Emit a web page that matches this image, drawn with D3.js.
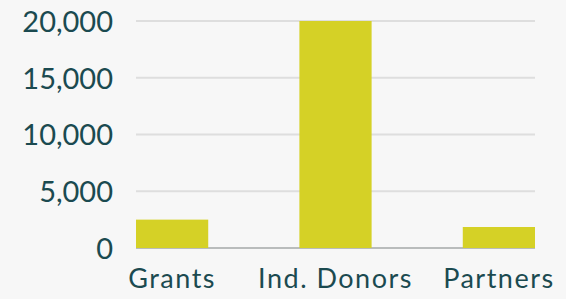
<!DOCTYPE html>
<html>
<head>
<meta charset="utf-8">
<script src="https://cdn.jsdelivr.net/npm/d3@7"></script>
<style>
  body { margin: 0; background: #f7f7f7; }
  svg { display: block; }
  .tick text { font-family: Lato, "Open Sans", sans-serif; fill: #1b4a50; }
</style>
</head>
<body>
<svg id="chart"></svg>
<script>
//Chart data
var categories = ["Grants", "Ind. Donors", "Partners"];
var amounts = [2500, 20000, 1850];
var yTicks = [0, 5000, 10000, 15000, 20000];

//Setting Margin for Plot
var margin = {top: 21, right: 31, bottom: 51, left: 136},
  width  = 566 - margin.left - margin.right,
  height = 299 - margin.top - margin.bottom;

var svg = d3.select("#chart")
  .attr("width", 566)
  .attr("height", 299);

var g = svg.append("g")
  .attr("transform", "translate(" + margin.left + "," + margin.top + ")");

//Set the ranges
var x = d3.scaleBand()
  .domain(categories)
  .range([0, width])
  .paddingInner(0.558)
  .paddingOuter(0);

var y = d3.scaleLinear()
  .domain([0, 20000])
  .range([height, 0]);

//Gridlines
g.selectAll(".grid")
  .data(yTicks)
  .enter().append("line")
  .attr("class", "grid")
  .attr("x1", 0)
  .attr("x2", width)
  .attr("y1", function(d) { return y(d); })
  .attr("y2", function(d) { return y(d); })
  .attr("stroke", function(d) { return d === 0 ? "#b9bcbc" : "#dedede"; })
  .attr("stroke-width", 2);

//Bars
g.selectAll(".bar")
  .data(amounts)
  .enter().append("rect")
  .attr("class", "bar")
  .attr("x", function(d, i) { return x(categories[i]); })
  .attr("width", x.bandwidth())
  .attr("y", function(d) { return y(d); })
  .attr("height", function(d) { return height - y(d); })
  .attr("fill", "#d5d126");

//Y-Axis
var yAxis = g.append("g")
  .call(d3.axisLeft(y).tickValues(yTicks).tickFormat(d3.format(",")).tickSize(0).tickPadding(23));
yAxis.select(".domain").remove();
yAxis.selectAll("text")
  .style("font-size", "29px")
  .attr("dy", "0.36em");

//X-Axis
var xAxis = g.append("g")
  .attr("transform", "translate(0," + height + ")")
  .call(d3.axisBottom(x).tickSize(0).tickPadding(21));
xAxis.select(".domain").remove();
xAxis.selectAll("text")
  .style("font-size", "27px")
  .style("letter-spacing", "1.5px");
</script>
</body>
</html>
